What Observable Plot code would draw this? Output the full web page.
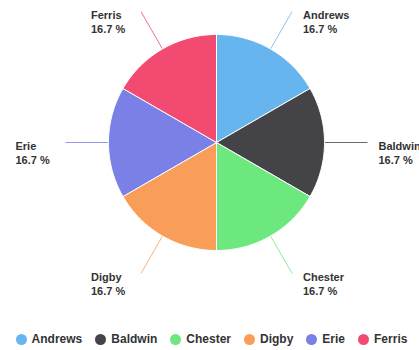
<!DOCTYPE html>
<html>
<head>
<meta charset="utf-8">
<script src="https://cdn.jsdelivr.net/npm/d3@7"></script>
<script src="https://cdn.jsdelivr.net/npm/@observablehq/plot@0.6"></script>
<style>
  body { margin: 0; background: #fff; font-family: "Liberation Sans", Arial, sans-serif; }
  #legend { display: flex; justify-content: center; align-items: center; gap: 13px; height: 28px;
            margin-top: 3px; font-size: 12px; font-weight: bold; color: #333; padding-left: 4px; }
  #legend .item { display: flex; align-items: center; gap: 5px; }
  #legend .dot { width: 11px; height: 11px; border-radius: 50%; display: inline-block; }
</style>
</head>
<body>
<div id="chart"></div>
<div id="legend"></div>
<script>
const names = ["Andrews", "Baldwin", "Chester", "Digby", "Erie", "Ferris"];
const values = [1, 1, 1, 1, 1, 1];
const colors = ["#66b5ee", "#434348", "#6de87f", "#f99e58", "#7a80e6", "#f24a70"];

const R = 108, RL = 151;
const total = d3.sum(values);
const arcs = d3.pie().sort(null).value(d => d)(values);

const slices = [];
arcs.forEach((a, i) => {
  const n = names[i];
  slices.push({name: n, x: 0, y: 0});
  const steps = 60;
  for (let k = 0; k <= steps; k++) {
    const t = a.startAngle + (a.endAngle - a.startAngle) * k / steps;
    slices.push({name: n, x: R * Math.sin(t), y: R * Math.cos(t)});
  }
  slices.push({name: n, x: 0, y: 0});
});

const labels = arcs.map((a, i) => {
  const m = (a.startAngle + a.endAngle) / 2;
  return {
    name: names[i],
    pct: (100 * values[i] / total).toFixed(1),
    x1: R * Math.sin(m), y1: R * Math.cos(m),
    x2: RL * Math.sin(m), y2: RL * Math.cos(m),
    right: Math.sin(m) >= 0
  };
});

const lab = d => `${d.name}\n${d.pct} %`;
const textOpts = {x: "x2", y: "y2", text: lab, textAnchor: "start", lineAnchor: "middle",
  dy: 10, fontSize: 11, fontWeight: "bold", fill: "#333", lineHeight: 1.27};

const chart = Plot.plot({
  width: 419, height: 322,
  margin: 0,
  x: {domain: [-216, 203], axis: null},
  y: {domain: [-180, 142], axis: null},
  color: {domain: names, range: colors},
  style: {fontFamily: "Liberation Sans, Arial, sans-serif", background: "#fff"},
  marks: [
    Plot.link(labels, {x1: "x1", y1: "y1", x2: "x2", y2: "y2", stroke: "name", strokeWidth: 1, strokeOpacity: 0.8}),
    Plot.line(slices, {x: "x", y: "y", z: "name", fill: "name", stroke: "white", strokeWidth: 1, curve: "linear"}),
    Plot.text(labels.filter(d => d.right), {...textOpts, dx: 11}),
    Plot.text(labels.filter(d => !d.right), {...textOpts, dx: -50})
  ]
});
document.getElementById("chart").appendChild(chart);

const legend = document.getElementById("legend");
names.forEach((n, i) => {
  const it = document.createElement("span");
  it.className = "item";
  const dot = document.createElement("span");
  dot.className = "dot";
  dot.style.background = colors[i];
  const t = document.createElement("span");
  t.textContent = n;
  it.appendChild(dot); it.appendChild(t);
  legend.appendChild(it);
});
</script>
</body>
</html>
